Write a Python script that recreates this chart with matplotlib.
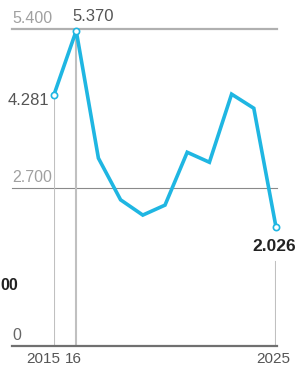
import matplotlib
matplotlib.use("Agg")
import matplotlib.pyplot as plt

plt.rcParams['font.family'] = ['Liberation Sans', 'DejaVu Sans']

years = [2015, 2016, 2017, 2018, 2019, 2020, 2021, 2022, 2023, 2024, 2025]
values = [4.281, 5.370, 3.20, 2.49, 2.23, 2.40, 3.30, 3.13, 4.29, 4.05, 2.026]
grid_vals = [5.4, 2.7, 0]
grid_labels = ["5.400", "2.700", "0"]
xtick_years = [2015, 2016, 2025]
xtick_labels = ["2015", "16", "2025"]

W, H = 297, 369
fig = plt.figure(figsize=(W / 100, H / 100), dpi=100)
x0_px, x1_px = 54, 276
y0_px, y1_px = 346, 29
ax = fig.add_axes([x0_px / W, (H - y0_px) / H, (x1_px - x0_px) / W, (y0_px - y1_px) / H])
ax.set_xlim(2015, 2025)
ax.set_ylim(0, 5.4)
ax.axis('off')

px_per_year = (x1_px - x0_px) / 10
left_x = 2015 - (x0_px - 12) / px_per_year
right_x = 2025 + 1 / px_per_year

# gridlines
ax.plot([left_x, right_x], [5.4, 5.4], color='#b0b0b0', lw=1.6, clip_on=False, zorder=1)
ax.plot([left_x, right_x], [2.7, 2.7], color='#8a8a8a', lw=0.8, clip_on=False, zorder=1)
ax.plot([left_x, right_x], [0, 0], color='#707070', lw=1.6, clip_on=False, zorder=2)

for v, lab in zip(grid_vals, grid_labels):
    col = '#a0a0a0' if v != 0 else '#666666'
    ax.annotate(lab, xy=(left_x, v), xytext=(0, 3), textcoords='offset pixels',
                ha='left', va='bottom', fontsize=11.5, color=col, annotation_clip=False)

# vertical drop lines
ax.plot([2015, 2015], [0, values[0] - 0.08], color='#c0c0c0', lw=1.5, zorder=1)
ax.plot([2016, 2016], [0, values[1] - 0.08], color='#c0c0c0', lw=1.5, zorder=1)
ax.plot([2025, 2025], [0, values[-1] - 0.6], color='#c0c0c0', lw=1.5, zorder=1)

# main line
ax.plot(years, values, color='#1fb6e2', lw=2.6, solid_joinstyle='miter', clip_on=False, zorder=3)
for i in [0, 1, len(years) - 1]:
    ax.plot(years[i], values[i], marker='o', ms=4.5, mfc='white', mec='#1fb6e2', mew=1.2,
            clip_on=False, zorder=4)

# value labels
ax.annotate("4.281", xy=(years[0], values[0]), xytext=(-5, -6), textcoords='offset pixels',
            ha='right', va='center', fontsize=12, color='#555555', annotation_clip=False)
ax.annotate("5.370", xy=(years[1], values[1]), xytext=(-4, 7), textcoords='offset pixels',
            ha='left', va='bottom', fontsize=12, color='#555555', annotation_clip=False)
ax.annotate("2.026", xy=(years[-1], values[-1]), xytext=(-2, -12), textcoords='offset pixels',
            ha='center', va='top', fontsize=12.5, color='#222222', fontweight='bold',
            annotation_clip=False)

# x labels
offsets = [-11, -3, -3]
for yr, lab, off in zip(xtick_years, xtick_labels, offsets):
    ax.annotate(lab, xy=(yr, 0), xytext=(off, -6), textcoords='offset pixels',
                ha='center', va='top', fontsize=11, color='#555555', annotation_clip=False)

# label fragment from neighbouring panel
fig.text(0.5 / W, 1 - 285 / H, "00", ha='left', va='center', fontsize=11.5,
         fontweight='bold', color='#222222')

fig.savefig("out.png", dpi=100)
